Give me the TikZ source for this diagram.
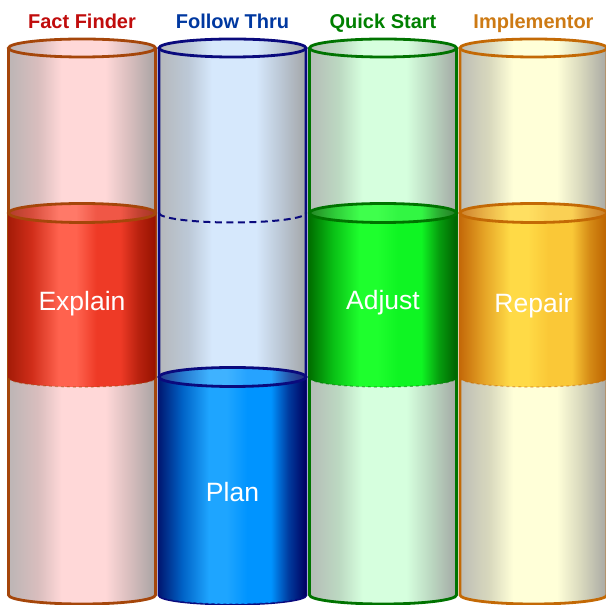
\documentclass[tikz,border=0pt]{standalone}
\usepackage{fontspec}
\setmainfont{Liberation Sans}

\definecolor{ffTitle}{RGB}{192,12,12}
\definecolor{ftTitle}{RGB}{0,56,160}
\definecolor{qsTitle}{RGB}{0,128,0}
\definecolor{imTitle}{RGB}{205,122,20}
\definecolor{ffLine}{RGB}{165,70,10}
\definecolor{ftLine}{RGB}{10,10,125}
\definecolor{qsLine}{RGB}{0,115,0}
\definecolor{imLine}{RGB}{195,105,5}
\definecolor{ffGlass}{RGB}{255,216,216}
\definecolor{ftGlass}{RGB}{214,232,252}
\definecolor{qsGlass}{RGB}{214,255,222}
\definecolor{imGlass}{RGB}{255,255,216}
\definecolor{ffDark}{RGB}{165,28,8}
\definecolor{ffLight}{RGB}{255,98,78}
\definecolor{ffMid}{RGB}{238,58,38}
\definecolor{ffRight}{RGB}{150,18,0}
\definecolor{ftDark}{RGB}{0,25,115}
\definecolor{ftLight}{RGB}{30,165,255}
\definecolor{ftMid}{RGB}{0,148,255}
\definecolor{ftRight}{RGB}{0,0,95}
\definecolor{qsDark}{RGB}{0,112,0}
\definecolor{qsLight}{RGB}{30,255,45}
\definecolor{qsMid}{RGB}{15,245,35}
\definecolor{qsRight}{RGB}{0,98,0}
\definecolor{imDark}{RGB}{196,106,10}
\definecolor{imLight}{RGB}{255,218,70}
\definecolor{imMid}{RGB}{250,200,55}
\definecolor{imRight}{RGB}{188,98,0}

\colorlet{gE}{gray}\colorlet{gA}{gray}\colorlet{gC}{white}\colorlet{gR}{gray}
\colorlet{lD}{black}\colorlet{lA}{black}\colorlet{lH}{white}
\colorlet{lM}{white}\colorlet{lB}{black}\colorlet{lR}{black}
\pgfdeclarehorizontalshading[gE,gA,gC,gR]{glass}{100bp}{color(0bp)=(gE); color(25bp)=(gE); color(35bp)=(gA); color(43bp)=(gC); color(58bp)=(gC); color(66bp)=(gA); color(75bp)=(gR); color(100bp)=(gR)}
\pgfdeclarehorizontalshading[lD,lA,lH,lM,lB,lR]{liquid}{100bp}{color(0bp)=(lD); color(25bp)=(lD); color(33bp)=(lA); color(42bp)=(lH); color(48bp)=(lH); color(55bp)=(lM); color(63bp)=(lM); color(69bp)=(lB); color(75bp)=(lR); color(100bp)=(lR)}

\begin{document}
\begin{tikzpicture}[x=1pt,y=1pt,
  coltitle/.style={anchor=base,font=\bfseries\fontsize{20}{24}\selectfont},
  lbl/.style={anchor=base,text=white,font=\fontsize{26.5}{30}\selectfont},
  rim/.style={line width=2.8pt}]
\useasboundingbox (0,0) rectangle (605,605);
\foreach \i/\cx/\ttl/\lab/\ly/\lt/\lb in {ff/82/Fact Finder/Explain/294/392/227,
    ft/232.5/Follow Thru/Plan/103/228/10,
    qs/383/Quick Start/Adjust/295/392/227,
    im/533.5/Implementor/Repair/292/392/227}{
  \colorlet{gC}{\i Glass}
  \colorlet{gA}{\i Glass!70!gray}
  \colorlet{gE}{\i Glass!25!gray!70!white}
  \colorlet{gR}{\i Glass!15!gray!80!white}
  \colorlet{lD}{\i Dark}
  \colorlet{lH}{\i Light}
  \colorlet{lM}{\i Mid}
  \colorlet{lR}{\i Right}
  \colorlet{lA}{\i Mid!60!\i Dark}
  \colorlet{lB}{\i Mid!40!\i Right}
  % glass tube
  \shade[shading=glass] (\cx-73.5,557) arc[start angle=180,end angle=0,x radius=73.5pt,y radius=9pt]
    -- (\cx+73.5,10) arc[start angle=0,end angle=-180,x radius=73.5pt,y radius=9pt] -- cycle;
  \draw[rim,color=\i Line] (\cx-73.5,557) -- (\cx-73.5,10)
    arc[start angle=180,end angle=360,x radius=73.5pt,y radius=9pt] -- (\cx+73.5,557);
  % liquid
  \shade[shading=liquid] (\cx-73.5,\lt) arc[start angle=180,end angle=0,x radius=73.5pt,y radius=9.5pt]
    -- (\cx+73.5,\lb) arc[start angle=0,end angle=-180,x radius=73.5pt,y radius=9pt] -- cycle;
  \draw[color=\i Line,dashed,line width=1.2pt,opacity=.5] (\cx-73.5,\lb)
    arc[start angle=180,end angle=360,x radius=73.5pt,y radius=9pt];
  \shade[shading=liquid] (\cx,\lt) ellipse[x radius=73.5pt,y radius=9.5pt];
  \fill[white,opacity=.15] (\cx,\lt) ellipse[x radius=73.5pt,y radius=9.5pt];
  \draw[rim,color=\i Line] (\cx,\lt) ellipse[x radius=73.5pt,y radius=9.5pt];
  \draw[rim,color=\i Line] (\cx,557) ellipse[x radius=73.5pt,y radius=9pt];
  \node[coltitle,text=\i Title] (\i-title) at (\cx,576) {\ttl};
  \node[lbl] (\i-label) at (\cx,\ly) {\lab};
}
\draw[color=ftLine,line width=2pt,dash pattern=on 7pt off 4.5pt] (159,392)
  arc[start angle=180,end angle=360,x radius=73.5pt,y radius=9.5pt];
\end{tikzpicture}
\end{document}
